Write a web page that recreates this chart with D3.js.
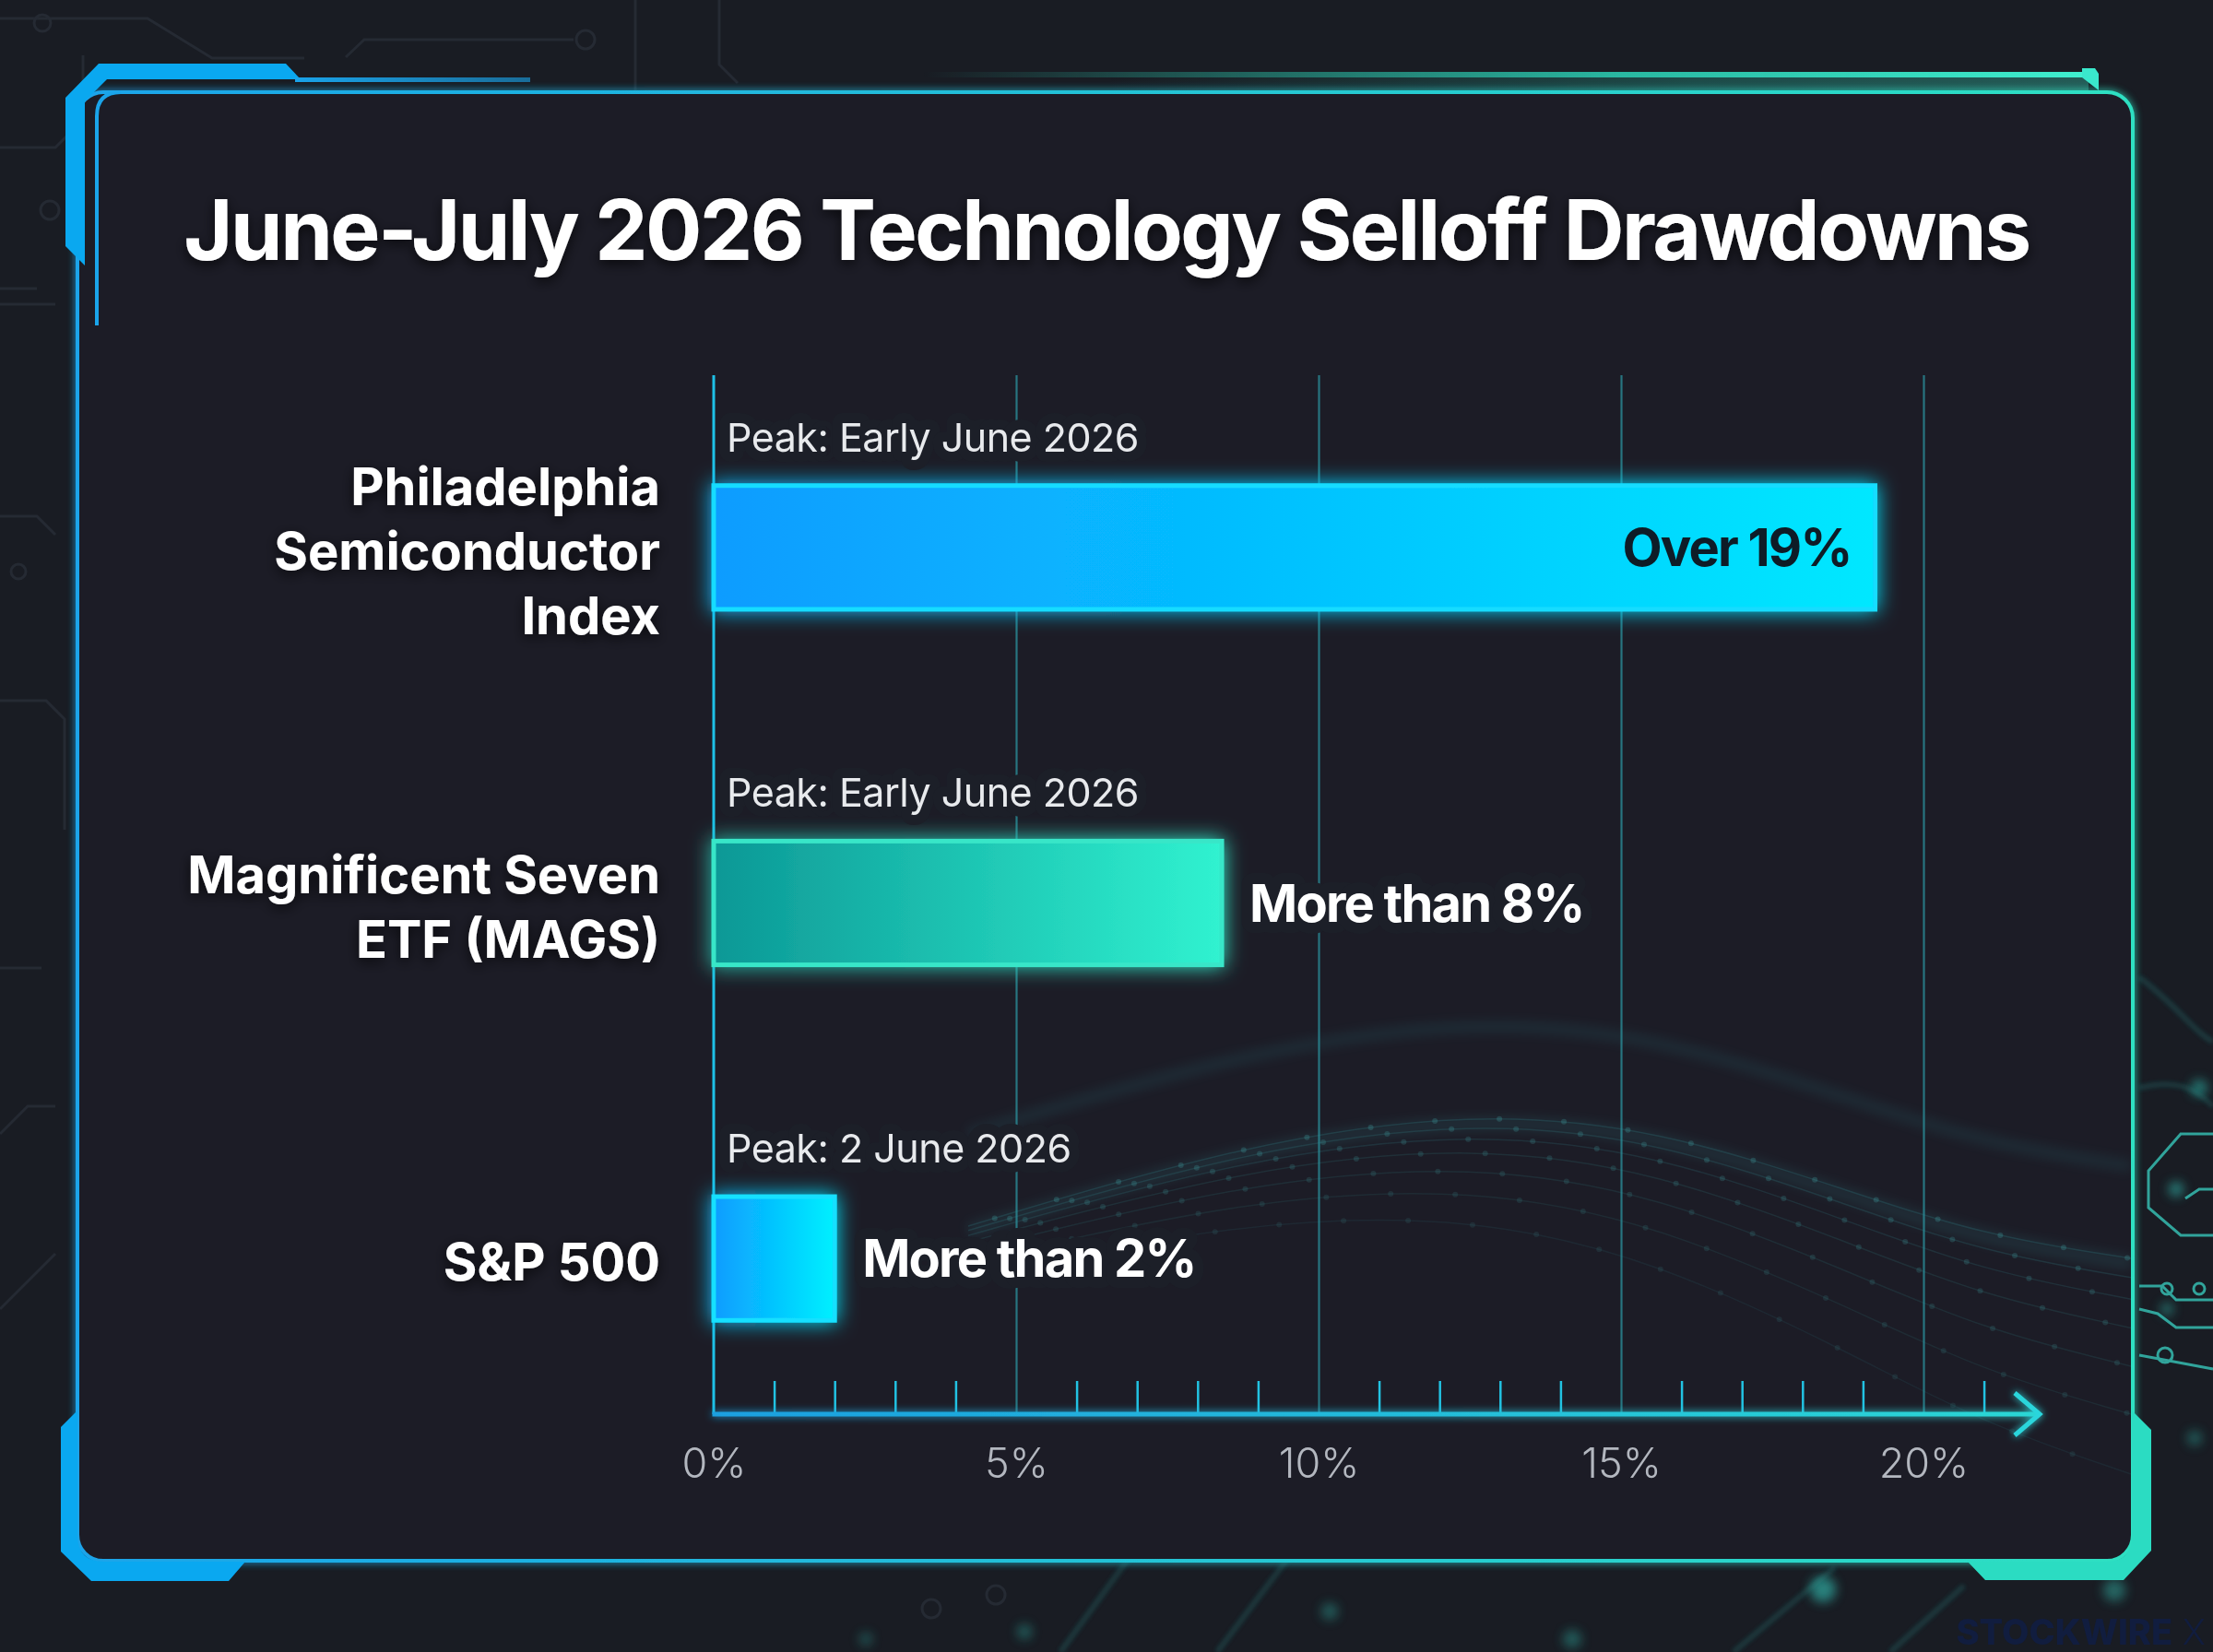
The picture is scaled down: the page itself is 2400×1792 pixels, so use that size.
<!DOCTYPE html>
<html>
<head>
<meta charset="utf-8">
<script src="https://cdn.jsdelivr.net/npm/d3@7"></script>
<style>
  html, body { margin: 0; padding: 0; background: #191c23; }
  #chart { width: 2400px; height: 1792px; }
  svg { display: block; }
</style>
</head>
<body>
<div id="chart"></div>
<script>
// ---- data ----
const categories = ["Philadelphia Semiconductor Index", "Magnificent Seven ETF (MAGS)", "S&P 500"];
const categoryLines = [["Philadelphia", "Semiconductor", "Index"], ["Magnificent Seven", "ETF (MAGS)"], ["S&P 500"]];
const drawdowns = [19.2, 8.4, 2.0];
const valueLabels = ["Over 19%", "More than 8%", "More than 2%"];
const peakLabels = ["Peak: Early June 2026", "Peak: Early June 2026", "Peak: 2 June 2026"];
const xTicks = [0, 5, 10, 15, 20];
const title = "June-July 2026 Technology Selloff Drawdowns";

// bar colours: [left, right, edge]
const barPalette = [
  ["#0a9cff", "#00e8ff", "#12dcff"],
  ["#0c9896", "#30f2d0", "#38e6c8"],
  ["#0a9cff", "#00f0ff", "#12e0ff"]
];

const W = 2400, H = 1792;
const FONT = "Inter, 'Noto Sans', sans-serif";
const panelFill = "#1c1f28";

const svg = d3.select("#chart").append("svg")
  .attr("width", W)
  .attr("height", H);
const defs = svg.append("defs");

// glow filter used by bars / axis
function glowFilter(id, sd) {
  const f = defs.append("filter").attr("id", id)
    .attr("filterUnits", "userSpaceOnUse")
    .attr("x", 0).attr("y", 0).attr("width", W).attr("height", H);
  f.append("feGaussianBlur").attr("in", "SourceGraphic").attr("stdDeviation", sd).attr("result", "b");
  const m = f.append("feMerge");
  m.append("feMergeNode").attr("in", "b");
  m.append("feMergeNode").attr("in", "SourceGraphic");
}
glowFilter("glow", 11);
glowFilter("glowSmall", 4);
defs.append("filter").attr("id", "blur6").append("feGaussianBlur").attr("stdDeviation", 6);
defs.append("filter").attr("id", "blur2").append("feGaussianBlur").attr("stdDeviation", 2);

const shadow = defs.append("filter").attr("id", "shadow")
  .attr("x", "-10%").attr("y", "-30%").attr("width", "120%").attr("height", "160%");
shadow.append("feDropShadow").attr("dx", 0).attr("dy", 4).attr("stdDeviation", 7)
  .attr("flood-color", "#000").attr("flood-opacity", 0.7);

function hGrad(id, stops) {
  const g = defs.append("linearGradient").attr("id", id)
    .attr("x1", "0%").attr("x2", "100%").attr("y1", "0%").attr("y2", "0%");
  stops.forEach(s => g.append("stop").attr("offset", s[0]).attr("stop-color", s[1]).attr("stop-opacity", s[2] == null ? 1 : s[2]));
}
hGrad("frameGrad", [["0%", "#1aa4ea"], ["100%", "#2ee0c2"]]);
hGrad("axisGrad", [["0%", "#1c9fe0"], ["100%", "#2bd6d4"]]);
hGrad("topRightGrad", [["0%", "#2ee0c2", 0], ["60%", "#2ee0c2", 0.8], ["100%", "#40f0d0", 1]]);
hGrad("topLeftThin", [["0%", "#1aa4ea", 1], ["100%", "#1aa4ea", 0.6]]);
barPalette.forEach((p, i) => hGrad("bar" + i, [["0%", p[0]], ["100%", p[1]]]));

// ---- background ----
svg.append("rect").attr("width", W).attr("height", H).attr("fill", "#191c23");

// faint circuit traces (top-left / left side)
const traces = svg.append("g").attr("fill", "none").attr("stroke", "#252a33").attr("stroke-width", 3);
[
  "M0,20 L160,20 L230,63 L330,63",
  "M375,62 L395,43 L622,43",
  "M0,160 L60,160 L90,130 L90,60",
  "M689,0 L689,100", "M780,0 L780,70 L800,90",
  "M0,313 L40,313", "M0,330 L60,330",
  "M0,560 L40,560 L60,580", "M0,760 L50,760 L70,780 L70,900",
  "M0,1050 L45,1050", "M0,1230 L30,1200 L60,1200",
  "M0,1420 L60,1360"
].forEach(d => traces.append("path").attr("d", d));
[[46, 25, 9], [635, 43, 10], [54, 228, 10], [20, 620, 8], [1010, 1745, 10], [1080, 1730, 10]].forEach(c =>
  traces.append("circle").attr("cx", c[0]).attr("cy", c[1]).attr("r", c[2]));

// glowing particles outside the frame (bottom / right)
const glowDots = svg.append("g").attr("filter", "url(#blur6)").attr("fill", "#34d6c6");
[[1977, 1724, 14, 0.55], [1442, 1748, 9, 0.35], [1111, 1770, 8, 0.35], [1705, 1778, 10, 0.35],
 [939, 1778, 7, 0.3], [2293, 1725, 12, 0.4], [2360, 1290, 8, 0.55], [2385, 1180, 9, 0.5],
 [2350, 1420, 7, 0.45], [2380, 1560, 8, 0.35]].forEach(c =>
  glowDots.append("circle").attr("cx", c[0]).attr("cy", c[1]).attr("r", c[2]).attr("opacity", c[3]));

const streaks = svg.append("g").attr("fill", "none").attr("stroke", "#2fb8b0").attr("filter", "url(#blur2)");
["M1150,1792 L1290,1600", "M1320,1792 L1450,1620", "M1880,1792 L1990,1700", "M2050,1792 L2130,1720",
 "M2320,1060 C2360,1090 2380,1120 2400,1130", "M2320,1180 C2360,1170 2380,1180 2400,1200"]
  .forEach(d => streaks.append("path").attr("d", d).attr("stroke-width", 6).attr("opacity", 0.18));

const circuitR = svg.append("g").attr("fill", "none").attr("stroke", "#3ad2c4").attr("stroke-width", 3).attr("opacity", 0.75);
["M2400,1230 L2365,1230 L2330,1270 L2330,1310 L2365,1340 L2400,1340",
 "M2400,1290 L2385,1290 L2370,1300",
 "M2320,1395 L2345,1395 L2360,1410 L2400,1410",
 "M2320,1420 L2340,1425 L2360,1440 L2400,1440",
 "M2320,1470 L2400,1485"].forEach(d => circuitR.append("path").attr("d", d));
circuitR.append("circle").attr("cx", 2350).attr("cy", 1398).attr("r", 6);
circuitR.append("circle").attr("cx", 2385).attr("cy", 1398).attr("r", 6);
circuitR.append("circle").attr("cx", 2348).attr("cy", 1470).attr("r", 8);

// ---- frame ----
const panel = { x: 84, y: 100, w: 2229, h: 1593, r: 28 };
svg.append("rect")
  .attr("x", panel.x).attr("y", panel.y).attr("width", panel.w).attr("height", panel.h)
  .attr("rx", panel.r)
  .attr("fill", panelFill)
  .attr("stroke", "url(#frameGrad)")
  .attr("stroke-width", 4)
  .attr("filter", "url(#glowSmall)");

// soft network wave in lower right of panel
const wave = d3.line().curve(d3.curveBasis);
const waveBase = [[1050, 1330], [1350, 1240], [1600, 1205], [1800, 1225], [2000, 1290], [2150, 1340], [2311, 1365]];
const waveG = svg.append("g").attr("fill", "none");
[0, 16, 34, 58, 90, 130, 180].forEach((off, i) => {
  const pts = waveBase.map((p, j) => [p[0], p[1] + off * (j / (waveBase.length - 1) + 0.3)]);
  const path = waveG.append("path").attr("d", wave(pts))
    .attr("stroke", "#3aa9ae").attr("stroke-width", 1.5).attr("opacity", 0.18 - i * 0.015);
  const node = path.node(), len = node.getTotalLength();
  for (let l = 30 + i * 17; l < len; l += 70) {
    const q = node.getPointAtLength(l);
    waveG.append("circle").attr("cx", q.x).attr("cy", q.y).attr("r", 3)
      .attr("fill", "#4cc4c4").attr("opacity", 0.22 - i * 0.02);
  }
});
waveG.append("path").attr("d", wave(waveBase.map(p => [p[0], p[1] - 100])))
  .attr("stroke", "#2f8f98").attr("stroke-width", 14).attr("opacity", 0.12).attr("filter", "url(#blur6)");
waveG.append("path").attr("d", wave(waveBase.map(p => [p[0], p[1] + 5])))
  .attr("stroke", "#3aa9ae").attr("stroke-width", 16).attr("opacity", 0.12).attr("filter", "url(#blur6)");

// top-left bracket
svg.append("path")
  .attr("d", "M71,106 L107,69 L310,69 L326,86 L116,86 L92,110 L92,288 L71,267 Z")
  .attr("fill", "#0aa8f0");
svg.append("rect").attr("x", 320).attr("y", 84).attr("width", 255).attr("height", 5)
  .attr("fill", "url(#topLeftThin)");
svg.append("path").attr("d", "M105,353 L105,126 Q105,100 131,100")
  .attr("fill", "none").attr("stroke", "#1aa4ea").attr("stroke-width", 4);

// top-right glowing rail
svg.append("rect").attr("x", 1000).attr("y", 78).attr("width", 1265).attr("height", 6)
  .attr("fill", "url(#topRightGrad)");
svg.append("rect").attr("x", 1200).attr("y", 84).attr("width", 1065).attr("height", 14)
  .attr("fill", "url(#topRightGrad)").attr("opacity", 0.3);
svg.append("path").attr("d", "M2258,74 L2272,74 L2276,80 L2276,98 L2258,84 Z").attr("fill", "#3ae8cc");

// bottom-left bracket
svg.append("path")
  .attr("d", "M84,1530 L66,1548 L66,1683 L99,1715 L248,1715 L266,1694 L113,1694 Q84,1694 84,1665 Z")
  .attr("fill", "#0aa8f0");
// bottom-right bracket
svg.append("path")
  .attr("d", "M2312,1530 L2333,1551 L2333,1682 L2303,1714 L2153,1714 L2134,1694 L2284,1694 Q2312,1694 2312,1666 Z")
  .attr("fill", "#2bdcc2");

// ---- title ----
svg.append("text")
  .attr("x", W / 2).attr("y", 282)
  .attr("text-anchor", "middle")
  .attr("font-family", FONT)
  .attr("font-weight", 700)
  .attr("font-size", 91)
  .attr("letter-spacing", -2.5)
  .attr("fill", "#ffffff")
  .attr("filter", "url(#shadow)")
  .text(title);

// ---- scales ----
const x = d3.scaleLinear().domain([0, 20]).range([774, 2086]);
const y = d3.scaleBand().domain(categories).range([401, 1558]).paddingInner(0.652).paddingOuter(0.326);
const axisY = 1534, plotTop = 407;

// grid lines
const grid = svg.append("g").attr("transform", `translate(0,${axisY})`)
  .call(d3.axisTop(x).tickValues(xTicks.filter(d => d > 0)).tickSize(axisY - plotTop).tickFormat(""));
grid.select(".domain").remove();
grid.selectAll("line").attr("stroke", "#2a8c97").attr("stroke-width", 2.2).attr("stroke-opacity", 0.8);

// minor ticks (every 1%)
const minor = svg.append("g").attr("transform", `translate(0,${axisY})`)
  .call(d3.axisTop(x).tickValues(d3.range(1, 22).filter(d => d % 5 !== 0)).tickSize(36).tickFormat(""));
minor.select(".domain").remove();
minor.selectAll("line").attr("stroke", "#22c2e2").attr("stroke-width", 2.5);

// vertical baseline
svg.append("line")
  .attr("x1", x(0)).attr("x2", x(0)).attr("y1", plotTop).attr("y2", axisY)
  .attr("stroke", "#1ec0e6").attr("stroke-width", 3);

// horizontal axis with arrow
const axisEnd = x(21.92);
const axisG = svg.append("g").attr("filter", "url(#glowSmall)");
axisG.append("rect")
  .attr("x", x(0) - 1.5).attr("y", axisY - 2.5)
  .attr("width", axisEnd - 2 - x(0)).attr("height", 5)
  .attr("fill", "url(#axisGrad)");
axisG.append("path")
  .attr("d", `M${axisEnd - 27},${axisY - 23} L${axisEnd},${axisY} L${axisEnd - 27},${axisY + 23}`)
  .attr("fill", "none").attr("stroke", "#2bd6dc").attr("stroke-width", 5);

// tick labels
const labels = svg.append("g").attr("transform", `translate(0,${axisY})`)
  .call(d3.axisBottom(x).tickValues(xTicks).tickSize(0).tickPadding(37).tickFormat(d => d + "%"));
labels.select(".domain").remove();
labels.selectAll("text")
  .attr("font-family", FONT)
  .attr("font-weight", 300)
  .attr("font-size", 45)
  .attr("fill", "#b3b7bf");

// ---- bars ----
const rows = categories.map((c, i) => ({
  cat: c, lines: categoryLines[i], value: drawdowns[i],
  label: valueLabels[i], peak: peakLabels[i], i
}));

const barG = svg.append("g");
barG.selectAll("rect.bar")
  .data(rows)
  .join("rect")
  .attr("class", "bar")
  .attr("x", x(0))
  .attr("y", d => y(d.cat))
  .attr("width", d => x(d.value) - x(0))
  .attr("height", y.bandwidth())
  .attr("fill", d => `url(#bar${d.i})`)
  .attr("stroke", d => barPalette[d.i][2])
  .attr("stroke-width", 5)
  .attr("filter", "url(#glow)");

// peak annotations
svg.append("g").selectAll("text")
  .data(rows)
  .join("text")
  .attr("x", x(0) + 14)
  .attr("y", d => y(d.cat) - 37)
  .attr("font-family", FONT)
  .attr("font-weight", 400)
  .attr("font-size", 43)
  .attr("letter-spacing", -0.5)
  .attr("fill", "#e8eaed")
  .attr("stroke", panelFill).attr("stroke-width", 22)
  .attr("stroke-linejoin", "round").attr("paint-order", "stroke")
  .text(d => d.peak);

// value labels: inside the long bar, outside the short ones
const inside = d => d.value > 10;
svg.append("g").selectAll("text")
  .data(rows)
  .join("text")
  .attr("x", d => inside(d) ? x(d.value) - 26 : x(d.value) + 30)
  .attr("y", d => y(d.cat) + y.bandwidth() / 2 + 20)
  .attr("text-anchor", d => inside(d) ? "end" : "start")
  .attr("font-family", FONT)
  .attr("font-weight", 700)
  .attr("font-size", 56)
  .attr("letter-spacing", -1.8)
  .attr("fill", d => inside(d) ? "#0e1c27" : "#ffffff")
  .attr("stroke", d => inside(d) ? "none" : panelFill)
  .attr("stroke-width", 24)
  .attr("stroke-linejoin", "round").attr("paint-order", "stroke")
  .text(d => d.label);

// category labels
const catG = svg.append("g").selectAll("text")
  .data(rows)
  .join("text")
  .attr("text-anchor", "end")
  .attr("font-family", FONT)
  .attr("font-weight", 700)
  .attr("font-size", 56)
  .attr("fill", "#ffffff")
  .attr("filter", "url(#shadow)");
const lineH = 70;
catG.selectAll("tspan")
  .data(d => d.lines.map((t, k) => ({ t, k, n: d.lines.length, c: y(d.cat) + y.bandwidth() / 2 })))
  .join("tspan")
  .attr("x", 716)
  .attr("y", d => d.c + 24 + (d.k - (d.n - 1) / 2) * lineH)
  .text(d => d.t);

// watermark
const wm = svg.append("text")
  .attr("x", 2392).attr("y", 1784)
  .attr("text-anchor", "end")
  .attr("font-family", FONT)
  .attr("font-size", 38)
  .attr("fill", "#111d3f");
wm.append("tspan").attr("font-weight", 800).text("STOCKWIRE");
wm.append("tspan").attr("font-weight", 300).text(" X");
</script>
</body>
</html>
